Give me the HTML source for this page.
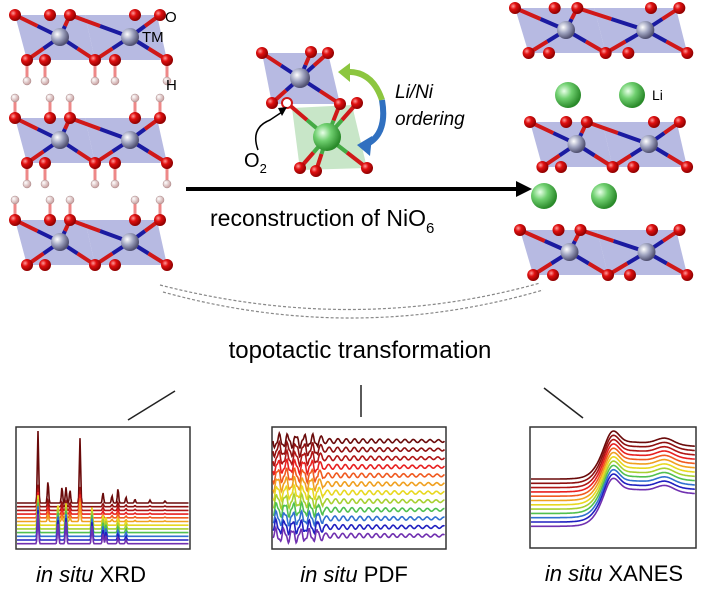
<!DOCTYPE html>
<html><head><meta charset="utf-8"><style>
html,body{margin:0;padding:0;background:#fff;}
svg{display:block;font-family:"Liberation Sans",sans-serif;}
</style></head><body>
<svg id="s" width="720" height="596" viewBox="0 0 720 596" xmlns="http://www.w3.org/2000/svg">
<defs>
<radialGradient id="gO" cx="35%" cy="35%" r="65%"><stop offset="0" stop-color="#ff9a9a"/><stop offset="0.4" stop-color="#e01010"/><stop offset="1" stop-color="#900000"/></radialGradient>
<radialGradient id="gTM" cx="35%" cy="35%" r="65%"><stop offset="0" stop-color="#ffffff"/><stop offset="0.5" stop-color="#a0a4c0"/><stop offset="1" stop-color="#505070"/></radialGradient>
<radialGradient id="gLi" cx="35%" cy="35%" r="65%"><stop offset="0" stop-color="#e8ffe8"/><stop offset="0.45" stop-color="#70d070"/><stop offset="1" stop-color="#2a8a2a"/></radialGradient>
<radialGradient id="gH" cx="35%" cy="35%" r="65%"><stop offset="0" stop-color="#ffffff"/><stop offset="1" stop-color="#c8a0a0"/></radialGradient>
</defs>
<g id="g"></g>
<line x1="186" y1="189" x2="520" y2="189" stroke="#000" stroke-width="4"/>
<path d="M516,181 L532,189 L516,197 z" fill="#000"/>
<text x="210" y="226" font-size="23">reconstruction of NiO<tspan font-size="15" dy="7">6</tspan></text>
<path d="M160,285 Q355,335 540,283" fill="none" stroke="#888" stroke-width="1.2" stroke-dasharray="3,2"/>
<path d="M163,292 Q355,345 543,290" fill="none" stroke="#888" stroke-width="1.2" stroke-dasharray="3,2"/>
<text x="360" y="358" font-size="24" text-anchor="middle">topotactic transformation</text>
<line x1="128" y1="420" x2="175" y2="391" stroke="#222" stroke-width="1.5"/>
<line x1="361" y1="385" x2="361" y2="417" stroke="#222" stroke-width="1.5"/>
<line x1="544" y1="388" x2="583" y2="418" stroke="#222" stroke-width="1.5"/>
<g font-size="22" text-anchor="middle">
<text x="91" y="582"><tspan font-style="italic">in situ</tspan> XRD</text>
<text x="354" y="582"><tspan font-style="italic">in situ</tspan> PDF</text>
<text x="614" y="581"><tspan font-style="italic">in situ</tspan> XANES</text>
</g>
<text x="395" y="98" font-size="19" font-style="italic">Li/Ni</text>
<text x="395" y="125" font-size="19" font-style="italic">ordering</text>
<text x="244" y="167" font-size="20">O<tspan font-size="13" dy="6">2</tspan></text>
<path d="M258,150 Q250,128 270,120 L282,112" fill="none" stroke="#000" stroke-width="1.5"/>
<path d="M278,108 L287,107 L282,116 z" fill="#000"/>
<text x="165" y="22" font-size="15">O</text>
<text x="142" y="42" font-size="15">TM</text>
<text x="166" y="90" font-size="15">H</text>
<text x="652" y="100" font-size="14">Li</text>
</svg>
<script>
const NS="http://www.w3.org/2000/svg",G=document.getElementById('g');
function el(t,a){const e=document.createElementNS(NS,t);for(const k in a)e.setAttribute(k,a[k]);G.appendChild(e);return e;}
function bond(x1,y1,x2,y2,c1,c2,w){const mx=(x1+x2)/2,my=(y1+y2)/2;el('line',{x1,y1,x2:mx,y2:my,stroke:c1,'stroke-width':w||4});el('line',{x1:mx,y1:my,x2,y2,stroke:c2,'stroke-width':w||4});}
function O(x,y,r){el('circle',{cx:x,cy:y,r:r||6,fill:'url(#gO)'});}
function layer(x0,y0,w,Htop,Hbot){
  const s=w/150;
  el('polygon',{points:`${x0},${y0} ${x0+70*s},${y0} ${x0+80*s},${y0+45} ${x0+12*s},${y0+45}`,fill:'#9fa3d8','fill-opacity':0.75});
  el('polygon',{points:`${x0+70*s},${y0} ${x0+142*s},${y0} ${x0+152*s},${y0+45} ${x0+80*s},${y0+45}`,fill:'#9fa3d8','fill-opacity':0.75});
  const top=[0,35,55,120,145].map(v=>x0+v*s),bot=[12,30,80,100,152].map(v=>x0+v*s);
  const tms=[x0+45*s,x0+115*s];
  if(Htop){top.forEach(x=>{el('line',{x1:x,y1:y0,x2:x,y2:y0-18,stroke:'#e88',"stroke-width":3});el('circle',{cx:x,cy:y0-20,r:4,fill:'url(#gH)',stroke:'#a88','stroke-width':0.5});});}
  if(Hbot){bot.forEach(x=>{el('line',{x1:x,y1:y0+45,x2:x,y2:y0+63,stroke:'#e88',"stroke-width":3});el('circle',{cx:x,cy:y0+66,r:4,fill:'url(#gH)',stroke:'#a88','stroke-width':0.5});});}
  tms.forEach((tx,i)=>{const ty=y0+22;
    const ts=i==0?[top[0],top[2]]:[top[2],top[4]];const bs=i==0?[bot[0],bot[2]]:[bot[2],bot[4]];
    ts.forEach(x=>bond(tx,ty,x,y0,'#1a1aa0','#d01818'));bs.forEach(x=>bond(tx,ty,x,y0+45,'#1a1aa0','#d01818'));
  });
  tms.forEach(tx=>{el('circle',{cx:tx,cy:y0+22,r:9,fill:'url(#gTM)'});});
  top.forEach(x=>O(x,y0));bot.forEach(x=>O(x,y0+45));
}
layer(15,15,150,false,true);
layer(15,118,150,true,true);
layer(15,220,150,true,false);
layer(515,8,170,false,false);
layer(530,122,155,false,false);
layer(520,230,165,false,false);
[[568,95],[632,95],[544,196],[604,196]].forEach(p=>el('circle',{cx:p[0],cy:p[1],r:13,fill:'url(#gLi)'}));
el('polygon',{points:'262,53 328,53 340,104 272,104',fill:'#9fa3d8','fill-opacity':0.75});
el('polygon',{points:'292,108 352,105 367,168 300,170',fill:'#b0dcb0','fill-opacity':0.7});
[[262,53],[311,52],[328,53],[272,103],[340,104]].forEach(p=>bond(300,78,p[0],p[1],'#1a1aa0','#d01818'));
[[340,104],[357,103],[300,168],[316,171],[367,168],[287,103]].forEach(p=>bond(327,137,p[0],p[1],'#4a4','#d01818'));
el('circle',{cx:300,cy:78,r:10,fill:'url(#gTM)'});
el('circle',{cx:327,cy:137,r:14,fill:'url(#gLi)'});
[[262,53],[311,52],[328,53],[272,103],[340,104],[357,103],[300,168],[316,171],[367,168]].forEach(p=>O(p[0],p[1]));
el('circle',{cx:287,cy:103,r:5,fill:'#fff',stroke:'#d01818','stroke-width':2});
el('path',{d:'M345,72 Q372,70 382,100',fill:'none',stroke:'#8cc63f','stroke-width':6});
el('path',{d:'M338,72 L350,63 L350,82 z',fill:'#8cc63f'});
el('path',{d:'M382,100 Q388,135 365,145',fill:'none',stroke:'#3070c0','stroke-width':6});
el('path',{d:'M357,145 L372,136 L370,156 z',fill:'#3070c0'});
const cols=['#6a0a0a','#8e1010','#b01515','#d01818','#e82020','#f05a20','#f0a020','#e8d820','#a8d030','#50c050','#30a8d8','#3070d0','#2020c0','#7030b0'];
function panel(x,y,w,h){el('rect',{x,y,width:w,height:h,fill:'#fff',stroke:'#333','stroke-width':1.5});}
function pl(pts,c){el('polyline',{points:pts.map(p=>p[0].toFixed(1)+','+p[1].toFixed(1)).join(' '),fill:'none',stroke:c,'stroke-width':1.6});}
function ci(i){return cols[Math.min(13,Math.round(i*13/11))];}
panel(16,427,174,122);
const xp=[[38,100],[48,30],[62,22],[66,22],[70,18],[80,90],[103,14],[112,10],[118,20],[126,8],[135,5],[150,4],[165,3]];
const xp2=[[38,30],[58,22],[66,22],[92,18],[103,10],[106,8],[118,6],[126,4]];
for(let i=0;i<12;i++){const b=503+i*3.7;const pts=[];const P=i==0?xp:(i<6?xp:xp2);const sc=i==0?0.72:(i<6?0.22:1);
 for(let x=17;x<=189;x+=0.7){let y=b;P.forEach(p=>{const d=(x-p[0])/0.9;y-=p[1]*sc*Math.exp(-d*d);});pts.push([x,Math.max(428,y)]);}pl(pts,ci(i));}
panel(272,427,174,122);
for(let i=0;i<12;i++){const b=441+i*8.6,pts=[];const ph=i*0.25;
 for(let x=273;x<=445;x+=0.7){const t=x-273;const a=(t<50?6:3)*(1-t/300);pts.push([x,b+a*Math.sin(t*0.75+ph)+(t<45?2*Math.sin(t*1.7):0)]);}pl(pts,ci(i));}
panel(530,427,166,121);
for(let i=0;i<12;i++){const b=479+i*4.3,pts=[];
 for(let x=531;x<=695;x+=0.7){const t=x;const edge=38/(1+Math.exp(-(t-600)/6));const pk=14*Math.exp(-Math.pow((t-612)/9,2));const sh=6*Math.exp(-Math.pow((t-665)/12,2));const y=b-edge-pk-sh+0.07*Math.max(0,t-620);pts.push([x,y]);}
 pl(pts,ci(i));}
</script>
</body></html>
